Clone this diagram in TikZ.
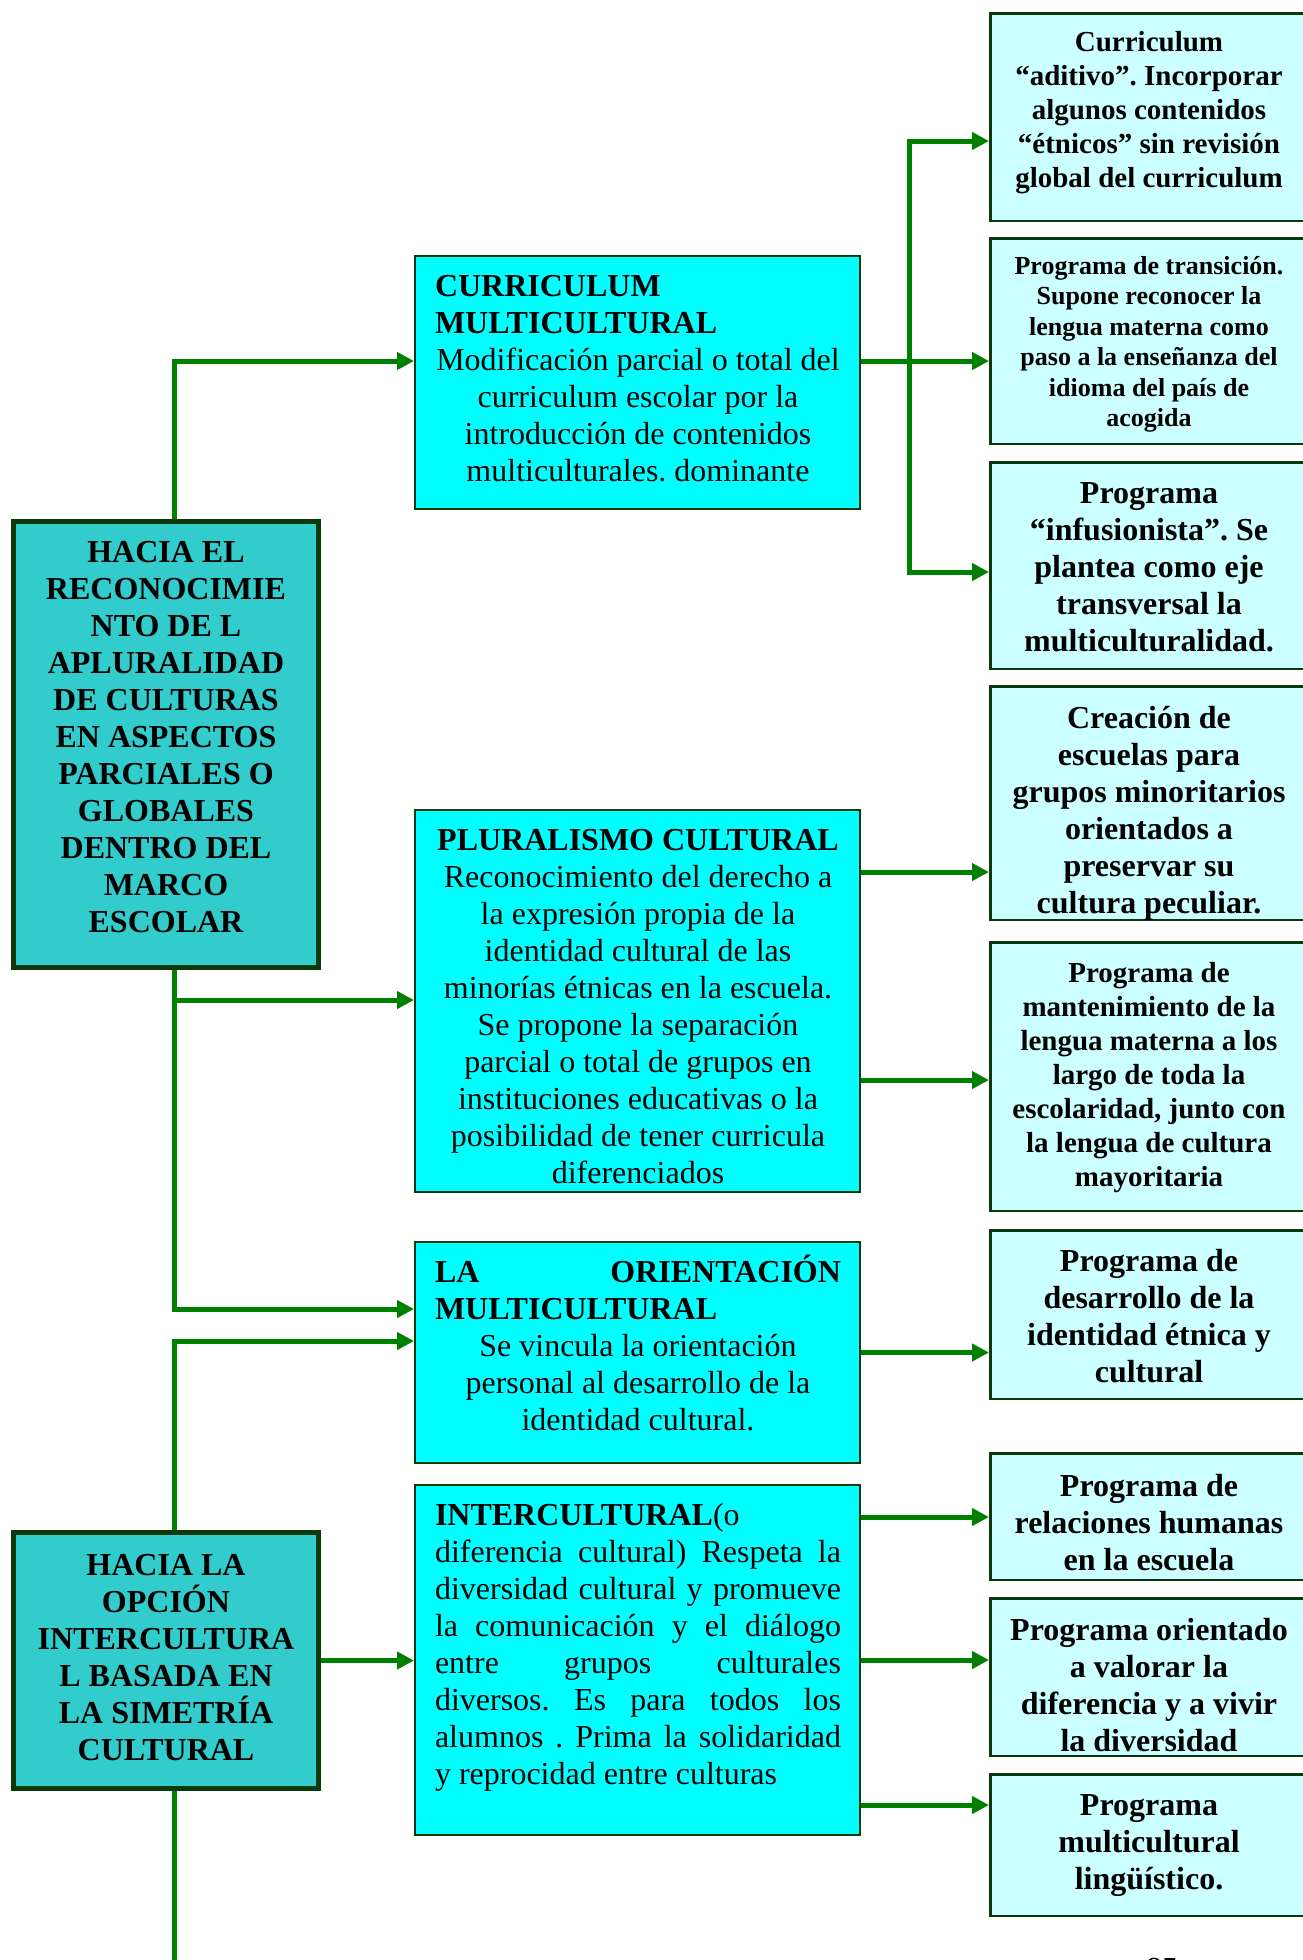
\documentclass[tikz,border=0pt]{standalone}
\usepackage{fontspec}
\setmainfont{Liberation Serif}
\usetikzlibrary{arrows.meta}
\frenchspacing
\definecolor{lnk}{HTML}{008000}
\definecolor{bord}{HTML}{0A3A0A}
\definecolor{tealf}{HTML}{33CCCC}
\definecolor{cyanf}{HTML}{00FFFF}
\definecolor{palec}{HTML}{CCFFFF}
\newdimen\tw
\newcommand\lnC[1]{\hbox to\tw{\hfil#1\hfil}}
\newcommand\lnL[1]{\hbox to\tw{#1\hfil}}
\newcommand\lnJ[1]{\hbox to\tw{#1}}
\tikzset{
  bigbox/.style={draw=bord,line width=5pt,fill=tealf,inner sep=0pt},
  midbox/.style={draw=bord,line width=2pt,fill=cyanf,inner sep=0pt,minimum width=445pt},
  rbox/.style={draw=bord,line width=2.5pt,fill=palec,inner sep=0pt,minimum width=317.5pt},
  txt/.style={inner sep=0pt,anchor=base,text=black},
  ln/.style={draw=lnk,line width=5pt},
  arr/.style={ln,-{Triangle[length=17pt,width=17pt]}},
  f32/.style={font=\fontsize{32}{37}\selectfont},
  b32/.style={font=\fontsize{32}{37}\selectfont\bfseries},
}
\begin{document}
\begin{tikzpicture}[x=1pt,y=-1pt]
\fill[white] (0,0) rectangle (1303,1960);
\useasboundingbox (0,0) rectangle (1303,1960);

% left boxes
\node[bigbox,minimum width=305pt,minimum height=446pt] (L1) at (166,744.5) {};
\node[bigbox,minimum width=305pt,minimum height=256pt] (L2) at (166,1660.5) {};
% middle boxes
\node[midbox,minimum height=253pt] (M1) at (637.5,382.5) {};
\node[midbox,minimum height=382pt] (M2) at (637.5,1001) {};
\node[midbox,minimum height=221pt] (M3) at (637.5,1352.5) {};
\node[midbox,minimum height=350pt] (M4) at (637.5,1660) {};
% right boxes
\node[rbox,minimum height=207.5pt] (R1) at (1149,117) {};
\node[rbox,minimum height=205.5pt] (R2) at (1149,341) {};
\node[rbox,minimum height=206.5pt] (R3) at (1149,565.5) {};
\node[rbox,minimum height=233.5pt] (R4) at (1149,803) {};
\node[rbox,minimum height=268.5pt] (R5) at (1149,1076.5) {};
\node[rbox,minimum height=168.5pt] (R6) at (1149,1314.5) {};
\node[rbox,minimum height=126.5pt] (R7) at (1149,1516.5) {};
\node[rbox,minimum height=157.5pt] (R8) at (1149,1677) {};
\node[rbox,minimum height=141.5pt] (R9) at (1149,1845) {};

% coordinates for connector levels
\coordinate (tk) at (174,0);
\coordinate (tr) at (909,0);
\coordinate (ya) at (0,361);
\coordinate (yb) at (0,1000);
\coordinate (yc) at (0,1309);
\coordinate (yd) at (0,1341);
\coordinate (yr1) at (0,141);
\coordinate (yr3) at (0,572);
\coordinate (y4) at (0,872);
\coordinate (y5) at (0,1080);
\coordinate (y7) at (0,1517);
\coordinate (y9) at (0,1805);
\coordinate (bot) at (174,1966);

% connectors
\draw[arr] (L1.north -| tk) |- (M1.west |- ya);
\draw[arr] (L1.south -| tk) |- (M3.west |- yc);
\draw[arr] (tk |- yb) -- (M2.west |- yb);
\draw[arr] (L2.north -| tk) |- (M3.west |- yd);
\draw[arr] (L2.east) -- (L2.east -| M4.west);
\draw[ln] (L2.south -| tk) -- (bot);
\draw[arr] (M1.east |- ya) -- (R2.west |- ya);
\draw[arr] (tr |- ya) |- (R1.west |- yr1);
\draw[arr] (tr |- ya) |- (R3.west |- yr3);
\draw[arr] (M2.east |- y4) -- (R4.west |- y4);
\draw[arr] (M2.east |- y5) -- (R5.west |- y5);
\draw[arr] (M3.east) -- (M3.east -| R6.west);
\draw[arr] (M4.east |- y7) -- (R7.west |- y7);
\draw[arr] (M4.east) -- (M4.east -| R8.west);
\draw[arr] (M4.east |- y9) -- (R9.west |- y9);

% left texts
\node[txt,b32] (L1t) at (166,562) {\vtop{\tw=300pt
\lnC{HACIA EL}
\lnC{RECONOCIMIE}
\lnC{NTO DE L}
\lnC{APLURALIDAD}
\lnC{DE CULTURAS}
\lnC{EN ASPECTOS}
\lnC{PARCIALES O}
\lnC{GLOBALES}
\lnC{DENTRO DEL}
\lnC{MARCO}
\lnC{ESCOLAR}}};
\node[txt,b32] (L2t) at (166,1575) {\vtop{\tw=300pt
\lnC{HACIA LA}
\lnC{OPCIÓN}
\lnC{INTERCULTURA}
\lnC{L BASADA EN}
\lnC{LA SIMETRÍA}
\lnC{CULTURAL}}};

% middle texts
\node[txt,f32] (M1t) at (638,296) {\vtop{\tw=406pt
\lnL{\bfseries CURRICULUM}
\lnL{\bfseries MULTICULTURAL}
\lnC{Modificación parcial o total del}
\lnC{curriculum escolar por la}
\lnC{introducción de contenidos}
\lnC{multiculturales. dominante}}};
\node[txt,f32] (M2t) at (638,850) {\vtop{\tw=406pt
\lnC{\bfseries PLURALISMO CULTURAL}
\lnC{Reconocimiento del derecho a}
\lnC{la expresión propia de la}
\lnC{identidad cultural de las}
\lnC{minorías étnicas en la escuela.}
\lnC{Se propone la separación}
\lnC{parcial o total de grupos en}
\lnC{instituciones educativas o la}
\lnC{posibilidad de tener curricula}
\lnC{diferenciados}}};
\node[txt,f32] (M3t) at (638,1282) {\vtop{\tw=406pt
\lnJ{\bfseries LA ORIENTACIÓN}
\lnL{\bfseries MULTICULTURAL}
\lnC{Se vincula la orientación}
\lnC{personal al desarrollo de la}
\lnC{identidad cultural.}}};
\node[txt,f32] (M4t) at (638,1525) {\vtop{\tw=406pt
\lnL{\textbf{INTERCULTURAL}(o}
\lnJ{diferencia cultural) Respeta la}
\lnJ{diversidad cultural y promueve}
\lnJ{la comunicación y el diálogo}
\lnJ{entre grupos culturales}
\lnJ{diversos. Es para todos los}
\lnJ{alumnos . Prima la solidaridad}
\lnL{y reprocidad entre culturas}}};

% right texts
\node[txt,font=\fontsize{29}{34}\selectfont\bfseries] (R1t) at (1149,51) {\vtop{\tw=310pt
\lnC{Curriculum}
\lnC{“aditivo”. Incorporar}
\lnC{algunos contenidos}
\lnC{“étnicos” sin revisión}
\lnC{global del curriculum}}};
\node[txt,font=\fontsize{26}{30.5}\selectfont\bfseries] (R2t) at (1149,274) {\vtop{\tw=310pt
\lnC{Programa de transición.}
\lnC{Supone reconocer la}
\lnC{lengua materna como}
\lnC{paso a la enseñanza del}
\lnC{idioma del país de}
\lnC{acogida}}};
\node[txt,b32] (R3t) at (1149,503) {\vtop{\tw=310pt
\lnC{Programa}
\lnC{“infusionista”. Se}
\lnC{plantea como eje}
\lnC{transversal la}
\lnC{multiculturalidad.}}};
\begin{scope}
\clip ([shift={(1.25,1.25)}]R4.north west) rectangle ([shift={(-1.25,-1.25)}]R4.south east);
\node[txt,b32] (R4t) at (1149,728) {\vtop{\tw=310pt
\lnC{Creación de}
\lnC{escuelas para}
\lnC{grupos minoritarios}
\lnC{orientados a}
\lnC{preservar su}
\lnC{cultura peculiar.}}};
\end{scope}
\node[txt,font=\fontsize{29}{34}\selectfont\bfseries] (R5t) at (1149,982) {\vtop{\tw=310pt
\lnC{Programa de}
\lnC{mantenimiento de la}
\lnC{lengua materna a los}
\lnC{largo de toda la}
\lnC{escolaridad, junto con}
\lnC{la lengua de cultura}
\lnC{mayoritaria}}};
\node[txt,b32] (R6t) at (1149,1271) {\vtop{\tw=310pt
\lnC{Programa de}
\lnC{desarrollo de la}
\lnC{identidad étnica y}
\lnC{cultural}}};
\node[txt,b32] (R7t) at (1149,1496) {\vtop{\tw=310pt
\lnC{Programa de}
\lnC{relaciones humanas}
\lnC{en la escuela}}};
\begin{scope}
\clip ([shift={(1.25,1.25)}]R8.north west) rectangle ([shift={(-1.25,-1.25)}]R8.south east);
\node[txt,b32] (R8t) at (1149,1640) {\vtop{\tw=310pt
\lnC{Programa orientado}
\lnC{a valorar la}
\lnC{diferencia y a vivir}
\lnC{la diversidad}}};
\end{scope}
\node[txt,b32] (R9t) at (1149,1815) {\vtop{\tw=310pt
\lnC{Programa}
\lnC{multicultural}
\lnC{lingüístico.}}};

% page number (cut by page edge, as in the reference)
\node[txt,f32] (pg) at (1162,1979) {85};
\end{tikzpicture}
\end{document}
